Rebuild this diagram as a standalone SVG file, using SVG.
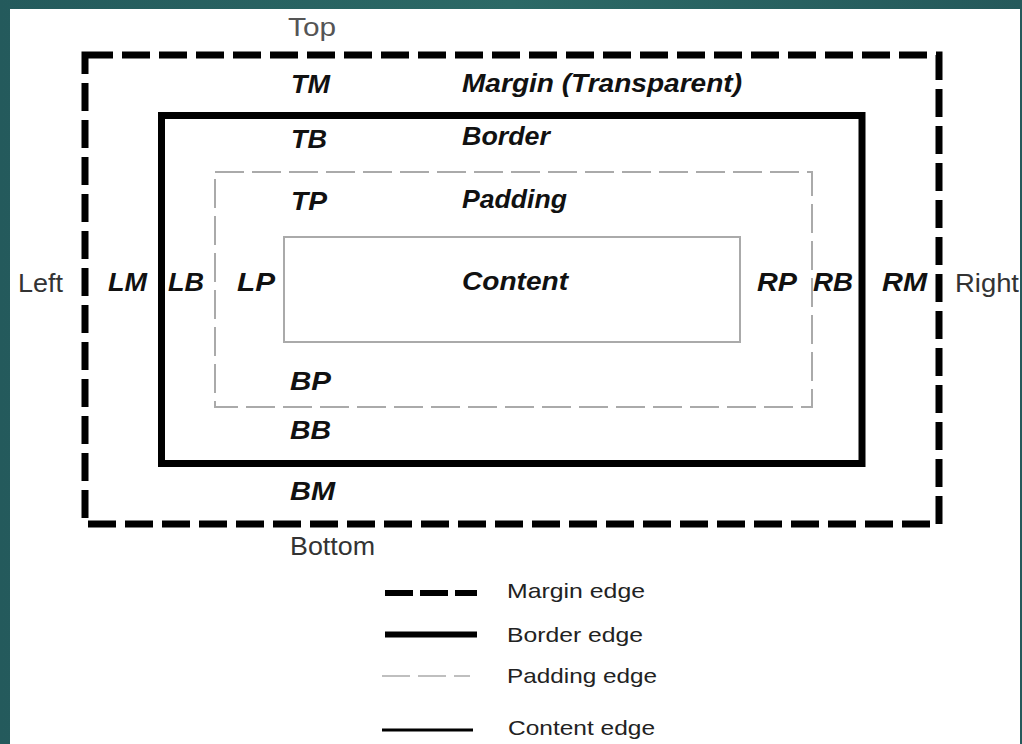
<svg xmlns="http://www.w3.org/2000/svg" width="1022" height="744" viewBox="0 0 1022 744">
<style>
.lbl{font-family:"Liberation Sans",Arial,sans-serif;font-style:italic;font-weight:bold;font-size:25px;fill:#111}
.side{font-family:"Liberation Sans",Arial,sans-serif;font-size:25px;fill:#333}
.leg{font-family:"Liberation Sans",Arial,sans-serif;font-size:21px;fill:#222}
.margin{fill:none;stroke:#000;stroke-width:7;stroke-dasharray:28 9}
.border{fill:none;stroke:#000;stroke-width:7}
.padding{fill:none;stroke:#aaa;stroke-width:2;stroke-dasharray:29 8}
.content{fill:none;stroke:#aaa;stroke-width:2}
</style>
<defs>
<linearGradient id="teal" x1="0" y1="0" x2="1" y2="0">
<stop offset="0" stop-color="#245a5c"/>
<stop offset="0.5" stop-color="#2c6966"/>
<stop offset="1" stop-color="#25595b"/>
</linearGradient>
</defs>
<rect x="0" y="0" width="1022" height="744" fill="url(#teal)"/>
<rect x="10" y="9" width="1010" height="735" fill="#fff"/>

<g id="margin-box">
<rect class="margin" x="85" y="55" width="854" height="469"/>
<text class="lbl" x="291" y="93" textLength="39" lengthAdjust="spacingAndGlyphs">TM</text>
<text class="lbl" x="462" y="92" textLength="280" lengthAdjust="spacingAndGlyphs">Margin (Transparent)</text>
<text class="lbl" x="108" y="291" textLength="39" lengthAdjust="spacingAndGlyphs">LM</text>
<text class="lbl" x="882" y="291" textLength="45" lengthAdjust="spacingAndGlyphs">RM</text>
<text class="lbl" x="290" y="500" textLength="45" lengthAdjust="spacingAndGlyphs">BM</text>
</g>

<g id="border-box">
<rect class="border" x="161.5" y="115.5" width="700.5" height="348"/>
<text class="lbl" x="291" y="148" textLength="36" lengthAdjust="spacingAndGlyphs">TB</text>
<text class="lbl" x="462" y="145" textLength="88" lengthAdjust="spacingAndGlyphs">Border</text>
<text class="lbl" x="168" y="291" textLength="36" lengthAdjust="spacingAndGlyphs">LB</text>
<text class="lbl" x="813" y="291" textLength="40" lengthAdjust="spacingAndGlyphs">RB</text>
<text class="lbl" x="290" y="439" textLength="41" lengthAdjust="spacingAndGlyphs">BB</text>
</g>

<g id="padding-box">
<rect class="padding" x="215" y="172" width="597" height="235"/>
<text class="lbl" x="291" y="210" textLength="36" lengthAdjust="spacingAndGlyphs">TP</text>
<text class="lbl" x="462" y="208" textLength="105" lengthAdjust="spacingAndGlyphs">Padding</text>
<text class="lbl" x="237" y="291" textLength="38" lengthAdjust="spacingAndGlyphs">LP</text>
<text class="lbl" x="757" y="291" textLength="40" lengthAdjust="spacingAndGlyphs">RP</text>
<text class="lbl" x="290" y="390" textLength="41" lengthAdjust="spacingAndGlyphs">BP</text>
</g>

<g id="content-box">
<rect class="content" x="284" y="237" width="456" height="105"/>
<text class="lbl" x="462" y="290" textLength="106" lengthAdjust="spacingAndGlyphs">Content</text>
</g>

<g id="side-labels">
<text class="side" x="288" y="36" textLength="48" lengthAdjust="spacingAndGlyphs" style="fill:#555">Top</text>
<text class="side" x="18" y="292" textLength="45" lengthAdjust="spacingAndGlyphs">Left</text>
<text class="side" x="955" y="292" textLength="64" lengthAdjust="spacingAndGlyphs">Right</text>
<text class="side" x="290" y="555" textLength="85" lengthAdjust="spacingAndGlyphs">Bottom</text>
</g>

<g id="legend">
<line x1="385" y1="593" x2="477" y2="593" stroke="#000" stroke-width="6" stroke-dasharray="28 7"/>
<text class="leg" x="507" y="598" textLength="138" lengthAdjust="spacingAndGlyphs">Margin edge</text>
<line x1="385" y1="634.5" x2="477" y2="634.5" stroke="#000" stroke-width="6"/>
<text class="leg" x="507" y="642" textLength="136" lengthAdjust="spacingAndGlyphs">Border edge</text>
<line x1="382" y1="676" x2="470" y2="676" stroke="#aaa" stroke-width="1.5" stroke-dasharray="28 8"/>
<text class="leg" x="507" y="683" textLength="150" lengthAdjust="spacingAndGlyphs">Padding edge</text>
<line x1="382" y1="730" x2="473" y2="730" stroke="#000" stroke-width="3"/>
<text class="leg" x="508" y="735" textLength="147" lengthAdjust="spacingAndGlyphs">Content edge</text>
</g>
</svg>
